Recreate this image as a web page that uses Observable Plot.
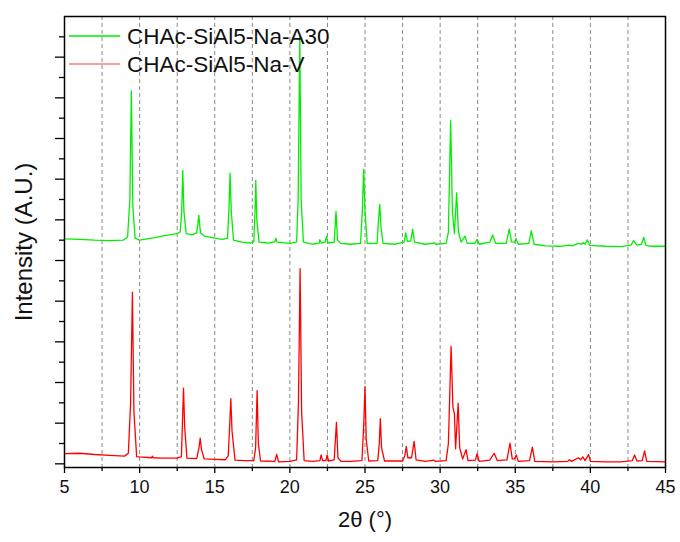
<!DOCTYPE html>
<html>
<head>
<meta charset="utf-8">
<script src="https://cdn.jsdelivr.net/npm/d3@7"></script>
<script src="https://cdn.jsdelivr.net/npm/@observablehq/plot@0.6"></script>
<style>
  html, body { margin: 0; padding: 0; background: #fff; }
  svg { display: block; font-family: "Liberation Sans", Arial, sans-serif; }
</style>
</head>
<body>
<div id="chart"></div>
<script>
// ---- Data ----
const seriesNames = ["CHAc-SiAl5-Na-A30", "CHAc-SiAl5-Na-V"];
const seriesColors = ["#00ee00", "#ff0000"];
const legendColors = ["#00ee00", "#f88080"];

// CHAc-SiAl5-Na-A30 (upper, offset trace): 2θ and intensity (A.U.)
const a30X = [5.0,6.0,7.0,8.0,8.9,9.2,9.35,9.45,9.55,9.7,10.0,10.5,11.0,11.5,12.0,12.5,12.7,12.8,12.87,12.95,13.1,13.5,13.8,13.94,14.05,14.3,15.0,15.5,15.85,15.95,16.02,16.1,16.25,16.8,17.4,17.6,17.68,17.73,17.8,17.95,18.5,19.0,19.06,19.15,20.0,20.45,20.55,20.66,20.75,20.9,21.5,21.95,21.99,22.1,22.35,22.43,22.55,22.95,23.07,23.17,23.4,24.0,24.7,24.82,24.91,25.0,25.15,25.8,25.9,25.98,26.07,26.2,27.0,27.6,27.71,27.82,28.05,28.17,28.3,29.0,29.5,29.6,29.7,30.4,30.55,30.7,30.82,30.95,31.1,31.22,31.4,31.66,31.8,32.3,32.46,32.6,33.3,33.5,33.7,34.4,34.6,34.75,34.95,35.05,35.2,35.9,36.07,36.25,37.0,38.0,38.6,38.8,39.2,39.4,39.5,39.65,39.8,39.95,41.0,42.0,42.7,42.88,43.1,43.4,43.55,43.7,44.0,45.0];
const a30Y = [5.53,5.52,5.50,5.49,5.50,5.58,6.5,9.17,6.3,5.55,5.50,5.53,5.56,5.60,5.63,5.66,5.70,6.2,7.21,6.2,5.66,5.63,5.68,6.11,5.68,5.60,5.55,5.52,5.55,6.3,7.15,6.2,5.50,5.45,5.43,5.46,6.2,6.97,6.0,5.45,5.43,5.46,5.55,5.45,5.42,5.46,6.5,10.5,6.5,5.45,5.40,5.43,5.51,5.43,5.45,5.59,5.43,5.45,6.21,5.50,5.42,5.40,5.42,6.2,7.24,6.2,5.42,5.42,6.0,6.38,5.8,5.42,5.40,5.45,5.68,5.47,5.48,5.77,5.45,5.40,5.42,5.44,5.40,5.42,5.7,8.44,6.2,5.66,6.66,5.7,5.45,5.6,5.42,5.42,5.52,5.40,5.45,5.63,5.42,5.42,5.77,5.46,5.45,5.54,5.40,5.42,5.73,5.40,5.36,5.35,5.38,5.36,5.42,5.40,5.44,5.40,5.51,5.37,5.35,5.34,5.38,5.49,5.38,5.40,5.57,5.37,5.35,5.35];

// CHAc-SiAl5-Na-V (lower trace)
const vX = [5.0,6.0,7.0,8.0,9.0,9.25,9.4,9.52,9.62,9.8,10.0,10.8,10.85,10.9,11.5,12.5,12.78,12.85,12.92,13.0,13.15,13.8,13.95,14.03,14.12,14.3,15.0,15.7,15.9,16.0,16.07,16.15,16.35,17.0,17.6,17.72,17.82,17.9,18.05,19.0,19.12,19.25,20.0,20.45,20.57,20.68,20.78,20.95,21.5,22.0,22.08,22.18,22.4,22.48,22.58,22.95,23.1,23.2,23.4,24.0,24.8,24.92,25.0,25.08,25.25,25.85,25.95,26.02,26.1,26.3,27.5,27.65,27.75,27.85,28.1,28.27,28.4,29.0,29.6,29.7,30.4,30.55,30.73,30.85,30.95,31.03,31.2,31.3,31.5,31.73,31.85,32.35,32.46,32.6,33.3,33.6,33.8,34.45,34.65,34.8,34.95,35.07,35.2,35.95,36.14,36.3,37.5,38.5,38.6,38.75,39.2,39.35,39.5,39.65,39.88,40.0,41.0,42.0,42.8,42.94,43.1,43.45,43.61,43.75,45.0];
const vY = [0.25,0.26,0.23,0.21,0.19,0.26,1.5,4.22,1.3,0.18,0.17,0.15,0.19,0.15,0.14,0.14,0.18,1.0,1.86,0.9,0.14,0.13,0.4,0.63,0.35,0.12,0.11,0.10,0.2,1.0,1.60,0.8,0.09,0.08,0.08,0.4,1.80,0.5,0.07,0.06,0.23,0.05,0.06,0.1,1.5,4.80,1.3,0.08,0.06,0.08,0.22,0.08,0.08,0.22,0.07,0.10,1.02,0.15,0.06,0.06,0.08,1.0,1.90,0.6,0.07,0.08,0.5,1.11,0.4,0.07,0.07,0.2,0.43,0.15,0.15,0.55,0.10,0.06,0.09,0.06,0.08,0.5,2.89,1.4,1.23,0.37,1.49,0.4,0.12,0.35,0.08,0.09,0.25,0.06,0.09,0.26,0.08,0.10,0.51,0.12,0.12,0.22,0.06,0.08,0.41,0.06,0.05,0.06,0.10,0.06,0.15,0.10,0.17,0.08,0.23,0.06,0.05,0.05,0.08,0.22,0.07,0.08,0.32,0.06,0.05];

// Axis ticks
const xMajorTicks = [5, 10, 15, 20, 25, 30, 35, 40, 45];
const xMinorTicks = [7.5, 12.5, 17.5, 22.5, 27.5, 32.5, 37.5, 42.5];
const xGridTicks = [7.5, 10, 12.5, 15, 17.5, 20, 22.5, 25, 27.5, 30, 32.5, 35, 37.5, 40, 42.5];
const yMajorTicks = [0, 1, 2, 3, 4, 5, 6, 7, 8, 9, 10];
const yMinorTicks = [0.5, 1.5, 2.5, 3.5, 4.5, 5.5, 6.5, 7.5, 8.5, 9.5, 10.5];
const xTitle = "2θ (°)";
const yTitle = "Intensity (A.U.)";

// Build tables for the library
const a30 = a30X.map((x, i) => ({x, y: a30Y[i]}));
const v = vX.map((x, i) => ({x, y: vY[i]}));

// Legend drawn as a render-function mark
function legendMark(index, scales, values, dims) {
  const g = d3.create("svg:g");
  const x0 = dims.marginLeft + 5, x1 = dims.marginLeft + 56, tx = dims.marginLeft + 63;
  const ys = [dims.marginTop + 20, dims.marginTop + 48];
  seriesNames.forEach((name, i) => {
    g.append("line").attr("x1", x0).attr("x2", x1).attr("y1", ys[i]).attr("y2", ys[i])
      .attr("stroke", legendColors[i]).attr("stroke-width", 1.5);
    g.append("text").attr("x", tx).attr("y", ys[i]).attr("dy", "0.35em")
      .attr("text-anchor", "start")
      .attr("font-size", 22.5).attr("fill", "#111").text(name);
  });
  return g.node();
}

const chart = Plot.plot({
  width: 680,
  height: 542,
  marginLeft: 64,
  marginRight: 15,
  marginTop: 16,
  marginBottom: 75,
  style: {fontFamily: "'Liberation Sans', Arial, sans-serif", background: "#fff"},
  x: {domain: [5, 45]},
  y: {domain: [-0.09, 11.0]},
  marks: [
    Plot.ruleX(xGridTicks, {stroke: "#888", strokeDasharray: "4,3", strokeWidth: 1}),
    Plot.line(a30, {x: "x", y: "y", stroke: seriesColors[0], strokeWidth: 1.3}),
    Plot.line(v, {x: "x", y: "y", stroke: seriesColors[1], strokeWidth: 1.3}),
    Plot.axisX({ticks: xMajorTicks, tickSize: 6, tickPadding: 7, fontSize: 18, label: null, stroke: "#000", strokeWidth: 1.3, color: "#111"}),
    Plot.axisX({ticks: xMinorTicks, tickSize: 4, tickFormat: () => "", label: null, stroke: "#000", strokeWidth: 1.3}),
    Plot.axisY({ticks: yMajorTicks, tickSize: 9, tickFormat: () => "", label: null, stroke: "#000", strokeWidth: 1.3}),
    Plot.axisY({ticks: yMinorTicks, tickSize: 5, tickFormat: () => "", label: null, stroke: "#000", strokeWidth: 1.3}),
    Plot.frame({stroke: "#000", strokeWidth: 1.5}),
    Plot.text([xTitle], {frameAnchor: "bottom", textAnchor: "middle", dy: 59, fontSize: 22, fill: "#111"}),
    Plot.text([yTitle], {frameAnchor: "left", textAnchor: "middle", dx: -40, rotate: -90, fontSize: 24, fill: "#111"}),
    legendMark
  ]
});
document.getElementById("chart").append(chart);
</script>
</body>
</html>
